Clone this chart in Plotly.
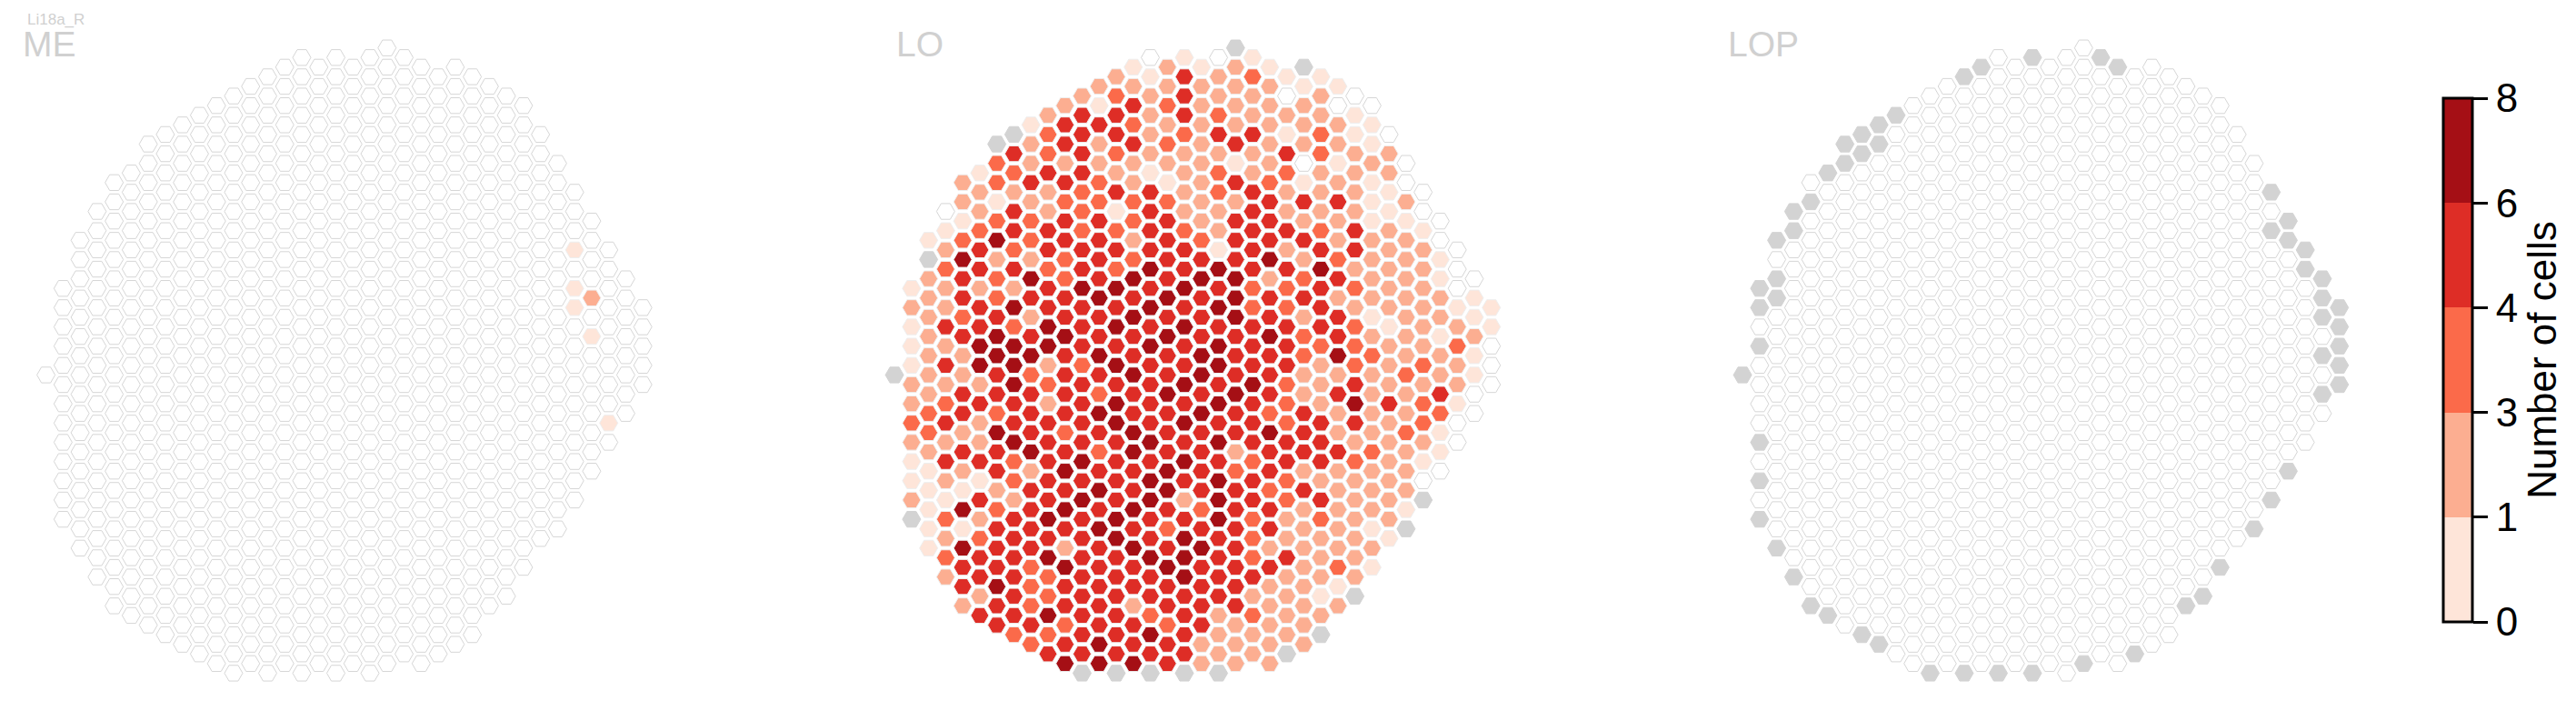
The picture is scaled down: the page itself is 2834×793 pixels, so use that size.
import plotly.graph_objects as go

# ---------------- data ----------------
PANEL_NAMES = ["ME", "LO", "LOP"]
FIG_LABEL = "Li18a_R"
COLORBAR_TITLE = "Number of cells"
BIN_LABELS = ["0", "1", "3", "4", "6", "8"]
BIN_COLORS = ["#fee5d9", "#fcae91", "#fb6a4a", "#de2d26", "#a50f15"]

# hex grid: for each half-row (top to bottom) the first column index;
# cells in a row sit on every second column
ROW_START = [0, -5, -6, -7, -8, -9, -10, -11, -12, -13, -14, -13, -14, -15, -16, -15,
             -16, -17, -16, -17, -18, -17, -18, -17, -18, -19, -18, -19, -18, -19, -18,
             -19, -18, -19, -20, -19, -18, -19, -18, -19, -18, -19, -18, -19, -18, -19,
             -18, -19, -18, -19, -18, -17, -18, -17, -16, -17, -16, -15, -16, -15, -14,
             -13, -12, -11, -10, -9]

# LO values per cell: digit = colour bin index, w = empty, g = no column
LO_ROWS = [
    "g", "w0w0", "01010g", "1031200", "11111100", "121311w1w", "10321111ww",
    "1331321110", "03321111110", "g2331233020w", "g13132131110", "323211113211",
    "211111101w01w", "0233101212111", "1233210132010w", "1112331231110w",
    "10122221133301", "w1312031131110w", "02233231331100w", "023322321332310",
    "024233132333111w", "132333330313311w", "g411232333412110", "233232434334111w",
    "1324234344123110w", "0111344343223211w", "13233434343311110", "113433343422311100",
    "12313343343130110", "033243434333320110", "13434334334231101", "01444334343322112w",
    "11443433433242110", "03441243343312121w", "g11323343433111210", "11142333434213111w",
    "1333323434313113w", "12331343343214320", "2323343343231112w", "2313334343323312w",
    "2143234333431120", "1114333434333111w", "1334324331333210", "0332343343233210",
    "013143343231111w", "010233343432111w", "001334343323111", "103134341432311g",
    "042343432331110", "g21343433421211", "00333432333110g", "12333434321110",
    "04331343431111", "2334334432311", "3324334333120", "1332333433111",
    "342333333110", "13233333110g", "132331333111", "33433231211", "3323323111",
    "223343111g", "234331111", "3333311g", "4443111", "ggggg",
]

# ME: non-empty cells (column, half-row, bin)
ME_CELLS = [(11, 21, "0"), (11, 25, "0"), (12, 26, "1"), (11, 27, "0"),
            (12, 30, "0"), (13, 39, "0")]

# LOP: cells without a column (column, half-row)
LOP_GRAY = [(-3, 1), (1, 1), (2, 2), (-6, 2), (-7, 3), (-11, 7), (-12, 8), (-13, 9),
            (-12, 10), (-14, 10), (-13, 11), (-14, 12), (-15, 13), (-16, 16), (-17, 17),
            (-17, 19), (-18, 20), (-18, 24), (-19, 25), (-18, 26), (-19, 27), (-19, 31),
            (11, 15), (12, 18), (11, 19), (12, 20), (13, 21), (13, 23), (14, 24), (14, 26),
            (15, 27), (14, 28), (15, 29), (15, 31), (14, 32),
            (-20, 34), (-19, 41), (-19, 45), (-19, 49), (-18, 52), (-17, 55), (-16, 58),
            (-15, 59), (-13, 61), (-12, 62), (-9, 65), (-7, 65), (-5, 65), (-3, 65),
            (0, 64), (3, 63), (6, 58), (7, 57), (8, 54), (10, 50), (11, 47), (12, 44),
            (14, 36), (15, 33), (15, 35)]

# ---------------- layout constants (pixels) ----------------
W, H = 2834, 793
DX, DY = 18.76, 10.58          # px per column / per half-row
CENTERS = [425.8, 1359.3, 2292.3]
ROW0_Y = 52.7
HEX_SIZE = 20
FONT = "Liberation Sans, Arial, sans-serif"

# ---------------- build cells ----------------
grid = []
for r, (k0, s) in enumerate(zip(ROW_START, LO_ROWS)):
    for i, ch in enumerate(s):
        grid.append((k0 + 2 * i, r, ch))

me_map = {(k, r): c for k, r, c in ME_CELLS}
lop_set = set(LOP_GRAY)
panel_codes = [
    [me_map.get((k, r), "w") for k, r, _ in grid],
    [c for _, _, c in grid],
    ["g" if (k, r) in lop_set else "w" for k, r, _ in grid],
]


def fill_of(c):
    if c == "w":
        return "#ffffff"
    if c == "g":
        return "#d3d3d3"
    return BIN_COLORS[int(c)]


def line_of(c):
    if c == "w":
        return "#d6d6d6"
    if c == "g":
        return "#d3d3d3"
    return "#eeeeee"


fig = go.Figure()
axis_names = ["x", "x2", "x3"]
for p, codes in enumerate(panel_codes):
    order = sorted(range(len(grid)), key=lambda i: 0 if codes[i] == "w" else 1)
    fig.add_trace(go.Scatter(
        x=[grid[i][0] for i in order],
        y=[grid[i][1] for i in order],
        mode="markers",
        marker=dict(symbol="hexagon2", size=HEX_SIZE,
                    color=[fill_of(codes[i]) for i in order],
                    line=dict(color=[line_of(codes[i]) for i in order], width=1)),
        xaxis=axis_names[p], yaxis="y", hoverinfo="skip", showlegend=False,
    ))

# colour bar (discrete bins)
n = len(BIN_COLORS)
cs = []
for i, col in enumerate(BIN_COLORS):
    cs.append([i / n, col])
    cs.append([(i + 1) / n, col])
fig.add_trace(go.Scatter(
    x=[None], y=[None], mode="markers", showlegend=False, hoverinfo="skip",
    marker=dict(color=[0], colorscale=cs, cmin=0, cmax=n, showscale=True,
                colorbar=dict(
                    x=2688 / W, xanchor="left", xref="paper", xpad=0,
                    y=1 - 396 / H, yanchor="middle", yref="paper", ypad=0,
                    len=576 / H, lenmode="fraction",
                    thickness=32, thicknessmode="pixels",
                    outlinewidth=3, outlinecolor="black",
                    tickvals=list(range(n + 1)), ticktext=BIN_LABELS,
                    ticks="outside", ticklen=16, tickwidth=3, tickcolor="black",
                    tickfont=dict(size=44, color="black", family=FONT),
                    title=dict(text=COLORBAR_TITLE, side="right",
                               font=dict(size=44, color="black", family=FONT)),
                )),
))

layout = dict(
    width=W, height=H, margin=dict(l=0, r=0, t=0, b=0),
    paper_bgcolor="white", plot_bgcolor="white",
    yaxis=dict(domain=[0, 1], range=[(H - ROW0_Y) / DY, -ROW0_Y / DY],
               visible=False, fixedrange=True),
)
for p, cx in enumerate(CENTERS):
    lo, hi = -21.5, 16.5
    d0 = (cx + lo * DX) / W
    d1 = (cx + hi * DX) / W
    key = "xaxis" if p == 0 else f"xaxis{p + 1}"
    layout[key] = dict(domain=[d0, d1], range=[lo, hi], anchor="y",
                       visible=False, fixedrange=True)
fig.update_layout(**layout)

TITLE_X = [23, 984, 1899]
for name, tx in zip(PANEL_NAMES, TITLE_X):
    fig.add_annotation(text=name, xref="paper", yref="paper", x=tx / W, y=1 - 48 / H,
                       xanchor="left", yanchor="middle", showarrow=False,
                       font=dict(size=39, color="#d0d0d0", family=FONT))
fig.add_annotation(text=FIG_LABEL, xref="paper", yref="paper", x=28 / W, y=1 - 21.5 / H,
                   xanchor="left", yanchor="middle", showarrow=False,
                   font=dict(size=17, color="#d0d0d0", family=FONT))

fig.write_html("out.html", config={"displayModeBar": False},
               post_script="document.body.style.margin='0';")
